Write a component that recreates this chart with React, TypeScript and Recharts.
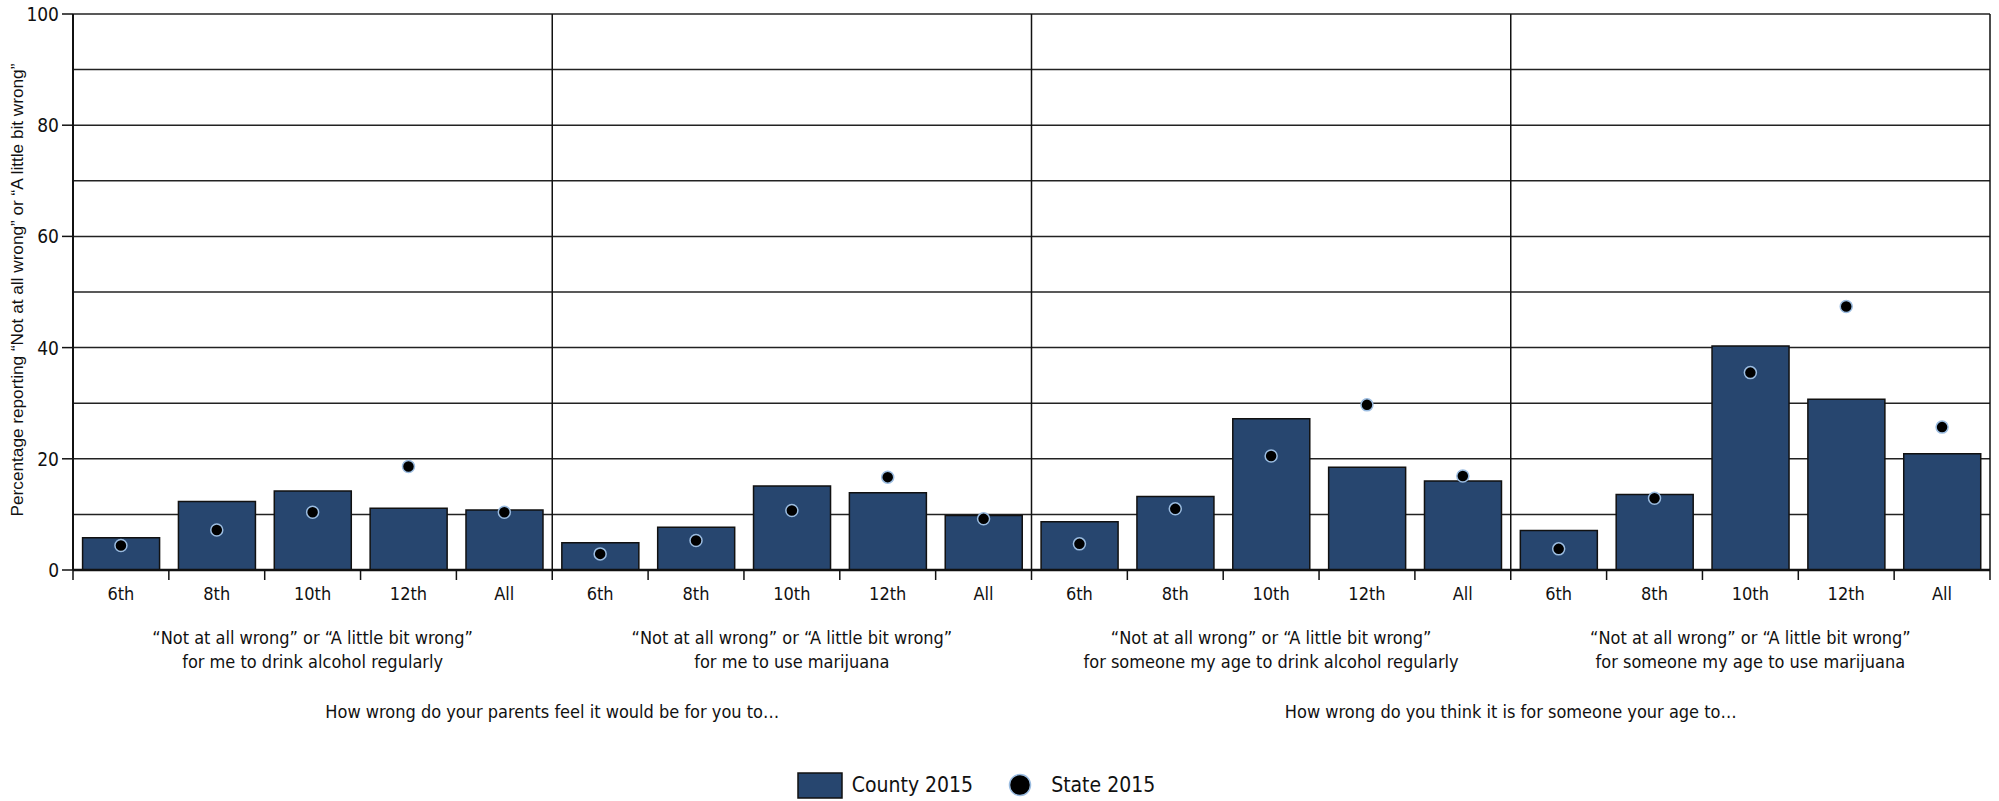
import { Bar, ComposedChart, CartesianGrid, Label, Legend, ReferenceLine, Scatter, XAxis, YAxis } from "recharts"

const grades = ["6th", "8th", "10th", "12th", "All"]

const panelLabels = [
  ["\u201cNot at all wrong\u201d or \u201cA little bit wrong\u201d", "for me to drink alcohol regularly"],
  ["\u201cNot at all wrong\u201d or \u201cA little bit wrong\u201d", "for me to use marijuana"],
  ["\u201cNot at all wrong\u201d or \u201cA little bit wrong\u201d", "for someone my age to drink alcohol regularly"],
  ["\u201cNot at all wrong\u201d or \u201cA little bit wrong\u201d", "for someone my age to use marijuana"],
]

const groupLabels = [
  "How wrong do your parents feel it would be for you to\u2026",
  "How wrong do you think it is for someone your age to\u2026",
]

// County 2015 bars, one list per panel
const countyAlcoholMe = [5.8, 12.3, 14.2, 11.1, 10.8]
const countyMarijuanaMe = [4.9, 7.7, 15.1, 13.9, 9.8]
const countyAlcoholPeer = [8.7, 13.2, 27.2, 18.5, 16.0]
const countyMarijuanaPeer = [7.1, 13.6, 40.3, 30.7, 20.9]

// State 2015 dots
const stateAlcoholMe = [4.4, 7.2, 10.4, 18.6, 10.4]
const stateMarijuanaMe = [2.9, 5.3, 10.7, 16.7, 9.2]
const stateAlcoholPeer = [4.7, 11.0, 20.5, 29.7, 16.9]
const stateMarijuanaPeer = [3.8, 12.9, 35.5, 47.4, 25.7]

const yTicks = [0, 10, 20, 30, 40, 50, 60, 70, 80, 90, 100]

const countyPanels = [countyAlcoholMe, countyMarijuanaMe, countyAlcoholPeer, countyMarijuanaPeer]
const statePanels = [stateAlcoholMe, stateMarijuanaMe, stateAlcoholPeer, stateMarijuanaPeer]

const chartData = countyPanels.flatMap((panel, p) =>
  panel.map((county, g) => ({
    key: `${p}-${g}`,
    slot: p * 5 + g + 0.5,
    grade: grades[g],
    county,
    state: statePanels[p][g],
  }))
)

// tick positions on the slot axis: boundaries and band centres
const slotTicks = Array.from({ length: 41 }, (_, i) => i / 2)

const COND = "'Liberation Sans Narrow', 'DejaVu Sans Condensed', 'Roboto', sans-serif"
const BAR = "#27466f"
const INK = "#111"

function YTick({ x, y, payload }: any) {
  if (payload.value % 20 !== 0) return <g />
  return (
    <g>
      <line x1={x + 3} x2={x + 14} y1={y} y2={y} stroke={INK} strokeWidth={1.5} />
      <text x={x} y={y} dy={7} textAnchor="end" fontFamily={COND} fontSize={19} fill="#111">
        {payload.value}
      </text>
    </g>
  )
}

function XTick({ x, y, payload }: any) {
  const v = payload.value
  const parts = []
  if (Number.isInteger(v)) {
    parts.push(<line key="t" x1={x} x2={x} y1={y} y2={y + 10} stroke={INK} strokeWidth={1.5} />)
    if (v === 5 || v === 15) {
      parts.push(
        <text key="g" x={x} y={y} dy={148} textAnchor="middle" fontFamily={COND} fontSize={18} fill="#111">
          {groupLabels[(v - 5) / 10]}
        </text>
      )
    }
  } else {
    const idx = Math.floor(v)
    parts.push(
      <text key="c" x={x} y={y} dy={30} textAnchor="middle" fontFamily={COND} fontSize={18} fill="#111">
        {grades[idx % 5]}
      </text>
    )
    if (idx % 5 === 2) {
      const lines = panelLabels[Math.floor(idx / 5)]
      parts.push(
        <text key="p1" x={x} y={y} dy={74} textAnchor="middle" fontFamily={COND} fontSize={18} fill="#111">
          {lines[0]}
        </text>,
        <text key="p2" x={x} y={y} dy={98} textAnchor="middle" fontFamily={COND} fontSize={18} fill="#111">
          {lines[1]}
        </text>
      )
    }
  }
  return <g>{parts}</g>
}

function StateDot({ cx, cy }: any) {
  return <circle cx={cx} cy={cy} r={6} fill="#000" stroke="#9bbce0" strokeWidth={1.5} />
}

function YLabel({ viewBox }: any) {
  const cx = viewBox.x + 17
  const cy = viewBox.y + viewBox.height / 2 - 2
  return (
    <text
      x={cx}
      y={cy}
      transform={`rotate(-90 ${cx} ${cy})`}
      textAnchor="middle"
      dominantBaseline="central"
      fontFamily="'Liberation Sans', sans-serif"
      fontSize={17.2}
      fill="#111"
    >
      Percentage reporting {"\u201cNot at all wrong\u201d or \u201cA little bit wrong\u201d"}
    </text>
  )
}

function LegendBox() {
  return (
    <div
      style={{
        display: "flex",
        justifyContent: "center",
        alignItems: "center",
        height: 32,
        fontFamily: COND,
        fontSize: 21,
        color: "#111",
        marginLeft: -38,
      }}
    >
      <svg width={46} height={27}>
        <rect x={1} y={1} width={44} height={25} fill={BAR} stroke={INK} strokeWidth={1.5} />
      </svg>
      <span style={{ marginLeft: 9 }}>County 2015</span>
      <svg width={24} height={24} style={{ marginLeft: 35 }}>
        <circle cx={12} cy={12} r={10.5} fill="#000" stroke="#9bbce0" strokeWidth={1.5} />
      </svg>
      <span style={{ marginLeft: 19 }}>State 2015</span>
    </div>
  )
}

export default function App() {
  return (
    <div style={{ position: "absolute", left: 0, top: 0, background: "#fff" }}>
      <ComposedChart
        width={1999}
        height={801}
        data={chartData}
        margin={{ top: 14, right: 9, left: 0, bottom: 0 }}
        barCategoryGap="10%"
      >
        <CartesianGrid vertical={false} stroke="#222" strokeWidth={1.5} strokeOpacity={1} />
        <YAxis
          type="number"
          domain={[0, 100]}
          ticks={yTicks}
          interval={0}
          width={73}
          tickSize={11}
          tickMargin={3}
          tickLine={false}
          axisLine={{ stroke: INK, strokeWidth: 2 }}
          tick={<YTick />}
        >
          <Label content={<YLabel />} />
        </YAxis>
        <XAxis
          xAxisId="num"
          dataKey="slot"
          type="number"
          domain={[0, 20]}
          allowDataOverflow
          ticks={slotTicks}
          interval={0}
          height={199}
          tickSize={0}
          tickMargin={0}
          tickLine={false}
          axisLine={{ stroke: INK, strokeWidth: 2.5 }}
          tick={<XTick />}
        />
        <XAxis xAxisId="cat" dataKey="key" type="category" hide height={0} />
        {[5, 10, 15, 20].map((b) => (
          <ReferenceLine key={b} xAxisId="num" x={b} stroke={INK} strokeWidth={1.5} />
        ))}
        <Bar
          xAxisId="cat"
          dataKey="county"
          name="County 2015"
          fill={BAR}
          stroke={INK}
          strokeWidth={1.5}
          isAnimationActive={false}
        />
        <Scatter
          xAxisId="cat"
          dataKey="state"
          name="State 2015"
          shape={<StateDot />}
          isAnimationActive={false}
        />
        <Legend verticalAlign="bottom" height={32} content={<LegendBox />} />
      </ComposedChart>
    </div>
  )
}
